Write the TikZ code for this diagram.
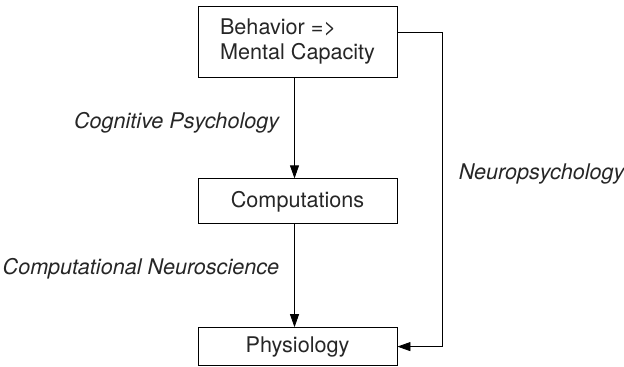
\documentclass[tikz,border=0pt]{standalone}
\usepackage{fontspec}
\setmainfont{TeX Gyre Heros}
\usepackage{tikz}
\usetikzlibrary{arrows.meta, positioning}
\tikzset{
->, % all connectors are directed
>={Triangle[length=6.5pt,width=4.5pt]}, % filled triangular heads
line width=1pt,
draw=black!85,
every node/.style={font=\fontsize{10.8}{12.5}\selectfont, text=black!85},
level/.style={draw, minimum width=99.5pt, inner sep=0pt}, % the three boxes
field/.style={font=\fontsize{10.8}{12.5}\selectfont\itshape, inner sep=0pt}, % the italic labels
}

\begin{document}
\begin{tikzpicture}
        \useasboundingbox (0,0) rectangle (312pt,-183.5pt);
        \node[level, minimum height=35.5pt, align=left] (behavior) at (148.75pt,-20.75pt) {Behavior =>\\Mental Capacity};
        \node[level, minimum height=22.5pt, below=50.5pt of behavior] (comp) {Computations};
        \node[level, minimum height=19pt, below=51.5pt of comp] (phys) {Physiology};
        \coordinate[right=22.5pt of behavior.east, yshift=4.75pt] (turn);

        \draw ([xshift=-1.5pt]behavior.south) -- node[field, left=7.5pt, pos=0.45]{Cognitive Psychology} ([xshift=-1.5pt]comp.north);
        \draw ([xshift=-1.5pt]comp.south) -- node[field, left=7.5pt, pos=0.43]{Computational Neuroscience} ([xshift=-1.5pt]phys.north);
        \draw ([yshift=4.75pt]behavior.east) -- (turn) |- node[field, right=8pt, pos=0.226]{Neuropsychology} (phys.east);
    \end{tikzpicture}
\end{document}
